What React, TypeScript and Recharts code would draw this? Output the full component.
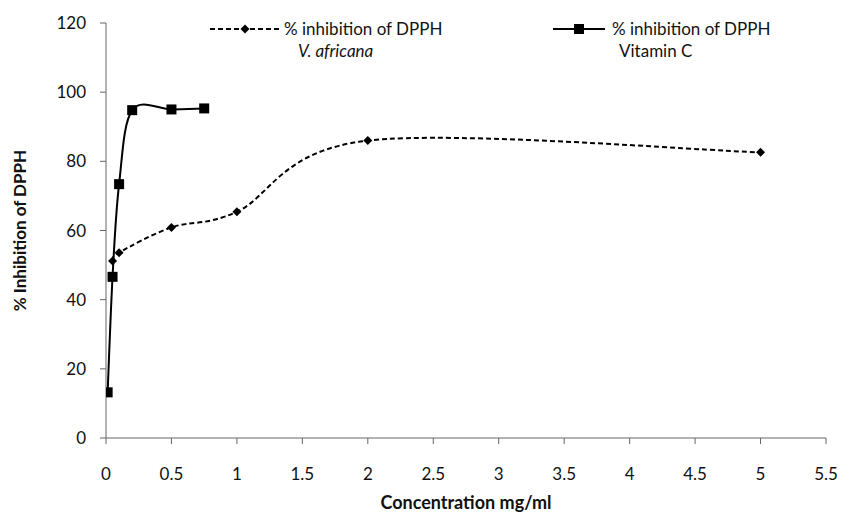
import { Legend, Line, LineChart, XAxis, YAxis } from 'recharts';

const vaConc = [0.05, 0.1, 0.5, 1, 2, 5];
const vaInhibition = [51.2, 53.6, 60.9, 65.4, 86.0, 82.6];
const vcConc = [0.0125, 0.05, 0.1, 0.2, 0.5, 0.75];
const vcInhibition = [13.2, 46.6, 73.4, 94.8, 95.0, 95.3];

const xTicks = [0, 0.5, 1, 1.5, 2, 2.5, 3, 3.5, 4, 4.5, 5, 5.5];
const yTicks = [0, 20, 40, 60, 80, 100, 120];

const vaData = vaConc.map((c, i) => ({ conc: c, value: vaInhibition[i] }));
const vcData = vcConc.map((c, i) => ({ conc: c, value: vcInhibition[i] }));

const FONT = 'Lato, "DejaVu Sans", sans-serif';

// spreadsheet style smoothing: bezier with control points at 1/6 of neighbour span
// eslint-disable-next-line @typescript-eslint/no-explicit-any
const smooth = (ctx: any) => {
  let pts: number[][] = [];
  return {
    areaStart() {},
    areaEnd() {},
    lineStart() {
      pts = [];
    },
    point(x: number, y: number) {
      pts.push([+x, +y]);
    },
    lineEnd() {
      if (!pts.length) return;
      ctx.moveTo(pts[0][0], pts[0][1]);
      for (let i = 1; i < pts.length; i++) {
        const p0 = pts[i - 2] || pts[i - 1];
        const p1 = pts[i - 1];
        const p2 = pts[i];
        const p3 = pts[i + 1] || pts[i];
        ctx.bezierCurveTo(
          p1[0] + (p2[0] - p0[0]) / 6,
          p1[1] + (p2[1] - p0[1]) / 6,
          p2[0] - (p3[0] - p1[0]) / 6,
          p2[1] - (p3[1] - p1[1]) / 6,
          p2[0],
          p2[1],
        );
      }
    },
  };
};

// eslint-disable-next-line @typescript-eslint/no-explicit-any
const Diamond = (props: any) => {
  const { cx, cy } = props;
  if (cx == null || cy == null) return <g key={props.key} />;
  const r = 4.5;
  return (
    <polygon
      key={props.key}
      points={`${cx},${cy - r} ${cx + r},${cy} ${cx},${cy + r} ${cx - r},${cy}`}
      fill='#000'
    />
  );
};

// eslint-disable-next-line @typescript-eslint/no-explicit-any
const Square = (props: any) => {
  const { cx, cy } = props;
  if (cx == null || cy == null) return <g key={props.key} />;
  return <rect key={props.key} x={cx - 5} y={cy - 5} width={10} height={10} fill='#000' />;
};

const textStyle: React.CSSProperties = {
  fontFamily: FONT,
  fontSize: 17,
  color: '#111',
  lineHeight: '22px',
  whiteSpace: 'nowrap',
};

const LegendBox = () => (
  <div style={{ position: 'relative', width: 833, height: 60 }}>
    <div style={{ position: 'absolute', left: 200, top: 10, display: 'flex' }}>
      <svg width={76} height={22}>
        <line x1={2} y1={11} x2={74} y2={11} stroke='#000' strokeWidth={2} strokeDasharray='5 3' />
        <polygon points='37,6.5 41.5,11 37,15.5 32.5,11' fill='#000' />
      </svg>
      <div style={textStyle}>
        <div>% inhibition of DPPH</div>
        <div style={{ fontStyle: 'italic', paddingLeft: 14 }}>V. africana</div>
      </div>
    </div>
    <div style={{ position: 'absolute', left: 544, top: 10, display: 'flex' }}>
      <svg width={60} height={22}>
        <line x1={1} y1={11} x2={53} y2={11} stroke='#000' strokeWidth={2} />
        <rect x={22} y={6} width={10} height={10} fill='#000' />
      </svg>
      <div style={textStyle}>
        <div>% inhibition of DPPH</div>
        <div style={{ paddingLeft: 7 }}>Vitamin C</div>
      </div>
    </div>
  </div>
);

export default function App() {
  return (
    <LineChart width={833} height={506} margin={{ top: 15, right: 15, bottom: 0, left: 0 }}>
      <XAxis
        type='number'
        dataKey='conc'
        domain={[0, 5.5]}
        ticks={xTicks}
        allowDataOverflow
        height={76}
        stroke='#666'
        tickSize={6}
        tickMargin={24}
        tick={{ fill: '#111', fontSize: 17, fontFamily: FONT }}
        label={{
          value: 'Concentration mg/ml',
          position: 'insideBottom',
          offset: 5,
          style: { fill: '#111', fontSize: 18, fontWeight: 'bold', fontFamily: FONT },
        }}
      />
      <YAxis
        type='number'
        domain={[0, 120]}
        ticks={yTicks}
        width={98}
        stroke='#666'
        tickSize={6}
        tickMargin={14}
        tick={{ fill: '#111', fontSize: 17, fontFamily: FONT }}
        label={{
          value: '% Inhibition of DPPH',
          angle: -90,
          position: 'insideLeft',
          offset: 12,
          style: { textAnchor: 'middle', fill: '#111', fontSize: 17, fontWeight: 'bold', fontFamily: FONT },
        }}
      />
      <Legend
        verticalAlign='top'
        content={<LegendBox />}
        wrapperStyle={{ position: 'absolute', top: 0, left: 0, width: 833, height: 0 }}
      />
      <Line
        data={vaData}
        dataKey='value'
        type={smooth}
        stroke='#000'
        strokeWidth={2}
        strokeDasharray='5 3'
        dot={Diamond}
        activeDot={false}
        isAnimationActive={false}
      />
      <Line
        data={vcData}
        dataKey='value'
        type={smooth}
        stroke='#000'
        strokeWidth={2}
        dot={Square}
        activeDot={false}
        isAnimationActive={false}
      />
    </LineChart>
  );
}
